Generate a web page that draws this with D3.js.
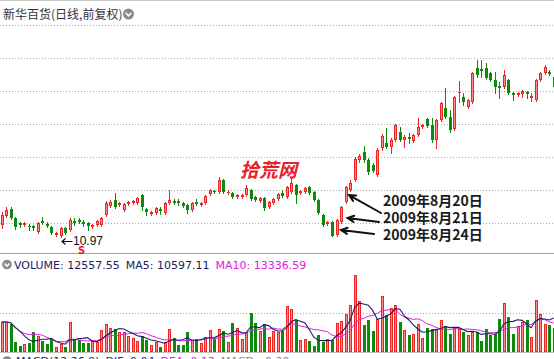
<!DOCTYPE html>
<html><head><meta charset="utf-8">
<script src="https://cdn.jsdelivr.net/npm/d3@7"></script>
<style>html,body{margin:0;padding:0;background:#fff;overflow:hidden}</style>
</head><body>
<svg id="c" width="554" height="359"></svg>
<script>
const opens = [11.67,12.21,12.64,12.09,11.79,11.67,11.61,11.61,11.24,11.91,
11.73,11.55,11.06,11.02,11.48,11.36,11.91,11.97,11.85,11.79,
11.55,11.67,11.67,12.27,12.82,13.18,12.88,12.58,12.94,13.00,
13.00,13.48,12.64,12.33,12.39,12.64,12.39,13.00,13.12,13.12,
13.00,12.88,12.58,13.06,12.88,13.00,13.55,13.73,13.67,14.39,
13.61,13.61,13.36,13.36,13.48,13.79,13.36,13.12,13.30,12.76,
13.00,13.24,13.61,13.36,13.67,14.09,13.61,13.67,13.97,13.67,
13.18,12.27,11.73,11.85,11.06,11.85,13.06,13.79,14.39,15.61,
16.09,15.61,15.30,14.70,16.33,16.64,16.39,16.82,17.30,16.82,
17.00,16.76,17.12,17.61,18.09,17.73,16.82,18.03,18.76,18.21,
17.48,19.67,19.42,18.82,19.12,21.18,21.12,21.18,20.88,20.45,
20.09,20.03,20.45,19.67,19.55,19.61,19.73,19.36,19.24,20.45,
20.88,20.94,20.64];
const highs = [12.45,12.76,12.76,12.15,11.85,11.85,11.73,11.67,11.85,12.15,
11.85,11.61,11.24,11.55,11.55,12.09,12.09,12.09,11.97,11.85,
11.73,11.97,12.15,13.12,13.18,13.61,13.06,13.00,13.12,13.18,
13.36,13.55,12.70,12.52,12.76,12.76,13.06,13.79,13.24,13.24,
13.06,12.94,13.06,13.24,13.06,13.48,13.85,13.79,14.58,14.45,
13.79,13.67,13.55,13.55,14.09,13.85,13.42,13.36,13.36,13.12,
13.30,13.61,13.79,14.03,14.52,14.15,13.79,13.97,14.03,13.73,
13.24,12.33,11.91,11.91,12.03,12.82,14.03,14.39,15.79,15.97,
16.45,15.73,15.42,16.33,17.18,17.55,16.94,17.79,17.61,17.12,
17.24,17.18,18.15,17.79,18.15,18.15,18.09,19.12,19.97,18.64,
19.48,20.39,19.67,19.30,20.94,21.67,21.67,21.48,20.94,20.94,
20.33,21.06,20.52,19.73,19.73,19.85,19.79,19.67,20.52,20.94,
21.36,21.06,20.70];
const lows = [11.48,12.15,12.03,11.42,11.55,11.61,11.36,11.36,11.18,11.73,
11.55,11.12,11.00,10.97,11.12,11.30,11.67,11.79,11.61,11.36,
11.48,11.61,11.61,12.21,12.76,12.70,12.82,12.52,12.88,12.94,
12.94,12.58,12.27,12.27,12.33,12.33,12.33,12.94,12.94,12.88,
12.76,12.39,12.52,12.88,12.82,12.94,13.48,13.61,13.61,13.61,
13.55,13.30,13.30,13.30,13.42,13.18,13.12,13.06,12.58,12.70,
12.94,13.18,13.36,13.30,13.61,13.00,13.55,13.61,13.55,13.12,
12.33,11.61,11.67,10.99,11.00,11.79,13.00,13.73,14.33,15.48,
15.48,14.76,14.88,14.64,16.21,16.33,16.03,16.76,16.76,16.39,
16.64,16.70,17.06,17.55,17.61,16.70,16.33,17.97,18.15,17.30,
17.42,19.12,18.94,18.76,19.06,20.64,20.64,20.52,20.39,19.67,
19.36,19.97,19.61,19.24,19.48,19.42,19.36,19.18,19.18,20.39,
20.82,20.76,19.97];
const closes = [12.27,12.58,12.09,11.55,11.67,11.79,11.55,11.48,11.79,11.79,
11.61,11.18,11.18,11.48,11.18,11.97,11.79,11.85,11.73,11.61,
11.67,11.91,12.09,13.00,13.06,12.76,13.00,12.94,13.06,13.12,
13.30,12.76,12.45,12.45,12.70,12.52,13.00,13.18,13.00,13.00,
12.82,12.58,13.00,12.94,13.00,13.42,13.79,13.67,14.39,13.67,
13.67,13.36,13.48,13.48,13.91,13.24,13.18,13.30,12.70,13.06,
13.24,13.55,13.42,13.97,14.21,13.48,13.73,13.91,13.61,13.18,
12.39,11.67,11.85,11.03,11.97,12.76,13.97,14.21,15.67,15.85,
15.61,14.88,14.94,16.21,17.06,16.39,16.82,17.73,16.82,17.00,
16.88,17.12,17.61,17.73,17.67,16.82,18.03,19.06,18.21,17.42,
19.42,19.73,19.12,19.24,20.88,20.76,21.00,20.58,20.45,20.03,
19.97,20.76,19.67,19.55,19.67,19.79,19.61,19.48,20.45,20.88,
21.24,20.82,20.03];
const volumes = [15390,15390,14360,5130,3080,4100,4620,10260,8210,5640,
4100,6670,2570,4100,2570,15390,6160,6160,4620,4620,
6160,5130,11290,14360,12310,11800,10260,10260,8210,7180,
5640,8210,6160,3590,5130,2570,5130,11800,7180,3590,
3590,10260,6160,6670,4620,7700,11290,6670,11800,10770,
5130,14880,12310,6670,10260,20010,14880,10770,14360,7700,
10770,10260,10770,23600,22060,16420,6160,6670,5640,3080,
8720,5130,6670,6160,14880,15900,19490,24110,39500,26160,
13850,16420,10770,16930,28730,18980,22570,24110,15390,11290,
8720,9230,14360,7180,12310,11800,11800,16420,13340,9230,
12310,11800,10260,8720,10260,10260,5640,11800,8720,9230,
16930,25140,17960,9230,13340,15390,16420,7700,26680,19490,
14360,13850,12560];
const priceGrid = [11.8,13.8,15.8,17.8,19.8,21.8,23.8];
const volumeGrid = [20000];
const chartTitle = "新华百货(日线,前复权)";
const volumeLegend = [
  {text:"VOLUME: 12557.55", color:"#1c1c5c"},
  {text:"MA5: 10597.11", color:"#1c1c5c"},
  {text:"MA10: 13336.59", color:"#e020e0"}
];
const macdLegend = [
  {text:"MACD(12,26,9)", color:"#1c1c5c"},
  {text:"DIF: 0.04", color:"#1c1c8c"},
  {text:"DEA: 0.12", color:"#e020e0"},
  {text:"MACD: -0.20", color:"#888888"}
];
const lowMark = {index:13, label:"10.97"};
const annotations = [
  {label:"2009年8月20日", index:76, price:13.48, dx:3.5, tail:[381,213], base:206},
  {label:"2009年8月21日", index:75, price:12.09, dx:6.5, tail:[379,222], base:223},
  {label:"2009年8月24日", index:74, price:11.36, dx:4.5, tail:[374,234], base:240}
];

const svg = d3.select("#c");
const W = 554;
const n = closes.length;
const xc = d3.scaleLinear().domain([0, n-1]).range([1.7, 553.7]);
const y = d3.scaleLinear().domain([10.97, 23.8]).range([236.5, 24.8]);
const yv = d3.scaleLinear().domain([0, 20000]).range([352, 313]);

const UP_STROKE = "#ee2424", UP_FILL = "#ff8a8a", DOWN = "#0b8a0b";

svg.append("line").attr("x1",0).attr("x2",W).attr("y1",0.5).attr("y2",0.5).attr("stroke","#c8c8c8");
svg.append("line").attr("x1",0).attr("x2",W).attr("y1",253.5).attr("y2",253.5).attr("stroke","#a0a0a0");
svg.append("line").attr("x1",0).attr("x2",W).attr("y1",352.5).attr("y2",352.5).attr("stroke","#c0c0c0");

svg.selectAll("line.pg").data(priceGrid).join("line").attr("class","pg")
  .attr("x1",0).attr("x2",W)
  .attr("y1",d=>Math.round(y(d))+0.5).attr("y2",d=>Math.round(y(d))+0.5)
  .attr("stroke","#aaaaaa").attr("stroke-dasharray","1,2");
svg.selectAll("line.vg").data(volumeGrid).join("line").attr("class","vg")
  .attr("x1",0).attr("x2",W)
  .attr("y1",d=>Math.round(yv(d))+0.5).attr("y2",d=>Math.round(yv(d))+0.5)
  .attr("stroke","#aaaaaa").attr("stroke-dasharray","1,2");

svg.append("text").attr("x",3).attr("y",19).text(chartTitle)
  .attr("font-family","'Noto Sans CJK SC'").attr("font-size",12).attr("fill","#333");
function icon(cx, cy, r){
  svg.append("circle").attr("cx",cx).attr("cy",cy).attr("r",r).attr("fill","#8a8a8a");
  svg.append("path").attr("d",`M${cx-r*0.5},${cy-r*0.2} L${cx},${cy+r*0.35} L${cx+r*0.5},${cy-r*0.2}`)
    .attr("fill","none").attr("stroke","#fff").attr("stroke-width",1.6);
}
icon(128.5, 14, 5.5);

const data = d3.range(n).map(i=>({i,o:opens[i],h:highs[i],l:lows[i],c:closes[i],v:volumes[i]}));
const isUp = d => d.c >= d.o;
const g = svg.append("g");
g.selectAll("line.wick").data(data).join("line").attr("class","wick")
  .attr("x1",d=>Math.round(xc(d.i))+0.5).attr("x2",d=>Math.round(xc(d.i))+0.5)
  .attr("y1",d=>Math.round(y(d.h))).attr("y2",d=>Math.round(y(d.l))+1)
  .attr("stroke",d=>isUp(d)?UP_STROKE:DOWN).attr("stroke-width",1);
data.forEach(d=>{
  const px = Math.round(xc(d.i));
  const top = Math.round(y(Math.max(d.o,d.c)));
  const bot = Math.round(y(Math.min(d.o,d.c)));
  if(isUp(d)){
    if(bot-top>=2){
      g.append("rect").attr("x",px-0.5).attr("y",top+0.5).attr("width",2).attr("height",bot-top-1)
        .attr("fill",UP_FILL).attr("stroke",UP_STROKE);
    } else {
      g.append("rect").attr("x",px-1).attr("y",top).attr("width",3).attr("height",Math.max(1,bot-top)).attr("fill",UP_STROKE);
    }
  } else {
    g.append("rect").attr("x",px-1).attr("y",top).attr("width",3).attr("height",Math.max(1,bot-top)).attr("fill",DOWN);
  }
});

data.forEach(d=>{
  const px = Math.round(xc(d.i));
  const top = Math.round(yv(d.v));
  const bot = Math.round(yv(0));
  if(isUp(d)){
    g.append("rect").attr("x",px-0.5).attr("y",top+0.5).attr("width",2).attr("height",Math.max(0,bot-top-1))
      .attr("fill",UP_FILL).attr("stroke",UP_STROKE);
  } else {
    g.append("rect").attr("x",px-1).attr("y",top).attr("width",3).attr("height",bot-top).attr("fill",DOWN);
  }
});
function ma(arr, k){ return arr.map((_,i)=>d3.mean(arr.slice(Math.max(0,i-k+1), i+1))); }
const line = d3.line().x((d,i)=>xc(i)).y(d=>yv(d));
svg.append("path").attr("d",line(ma(volumes,10))).attr("fill","none").attr("stroke","#e020e0").attr("stroke-width",1);
svg.append("path").attr("d",line(ma(volumes,5))).attr("fill","none").attr("stroke","#1c1c6c").attr("stroke-width",1.1);

icon(7, 264.5, 4.8);
const vt = svg.append("text").attr("y",268.5).attr("font-family","'DejaVu Sans'").attr("font-size",11);
volumeLegend.forEach((d,k)=>{
  vt.append("tspan").attr("x", k===0?14:null).attr("dx", k===0?0:6).attr("fill",d.color).text(d.text);
});
icon(7, 361, 4.8);
const mt = svg.append("text").attr("y",365).attr("font-family","'DejaVu Sans'").attr("font-size",11);
macdLegend.forEach((d,k)=>{
  mt.append("tspan").attr("x", k===0?16:null).attr("dx", k===0?0:6).attr("fill",d.color).text(d.text);
});

const lx = xc(lowMark.index), ly = y(lows[lowMark.index]);
svg.append("path").attr("d",`M${lx+12},${Math.round(ly)+4.5} L${lx+1.5},${Math.round(ly)+4.5} M${lx+5},${Math.round(ly)+1.5} L${lx+1.5},${Math.round(ly)+4.5} L${lx+5},${Math.round(ly)+7.5}`)
  .attr("fill","none").attr("stroke","#111").attr("stroke-width",1.2);
svg.append("text").attr("x",lx+12.5).attr("y",ly+8).text(lowMark.label)
  .attr("font-family","'Liberation Sans', Arial").attr("font-size",12).attr("fill","#111");
svg.append("text").attr("x",81.5).attr("y",253.5).attr("text-anchor","middle").text("S")
  .attr("font-family","'DejaVu Sans'").attr("font-weight","bold").attr("font-size",10).attr("fill","#e81c1c");

svg.append("text").attr("x",240).attr("y",176.5).text("拾荒网")
  .attr("font-family","'Noto Sans CJK SC'").attr("font-weight","bold").attr("font-style","italic")
  .attr("font-size",19).attr("fill","#e8202a");

annotations.forEach(a=>{
  const tx = xc(a.index)+a.dx, ty = y(a.price);
  const [sx, sy] = a.tail;
  const ang = Math.atan2(sy-ty, sx-tx);
  const L = 7, sp = 0.45;
  const p1 = [tx + L*Math.cos(ang+sp), ty + L*Math.sin(ang+sp)];
  const p2 = [tx + L*Math.cos(ang-sp), ty + L*Math.sin(ang-sp)];
  svg.append("path").attr("d",`M${sx},${sy} L${tx},${ty} M${p1[0]},${p1[1]} L${tx},${ty} L${p2[0]},${p2[1]}`)
    .attr("fill","none").attr("stroke","#111").attr("stroke-width",2).attr("stroke-linecap","round");
  svg.append("text").attr("x",383).attr("y",a.base).text(a.label)
    .attr("font-family","'Noto Sans CJK SC'").attr("font-weight","bold").attr("font-size",14).attr("fill","#1a1a1a");
});
</script>
</body></html>
